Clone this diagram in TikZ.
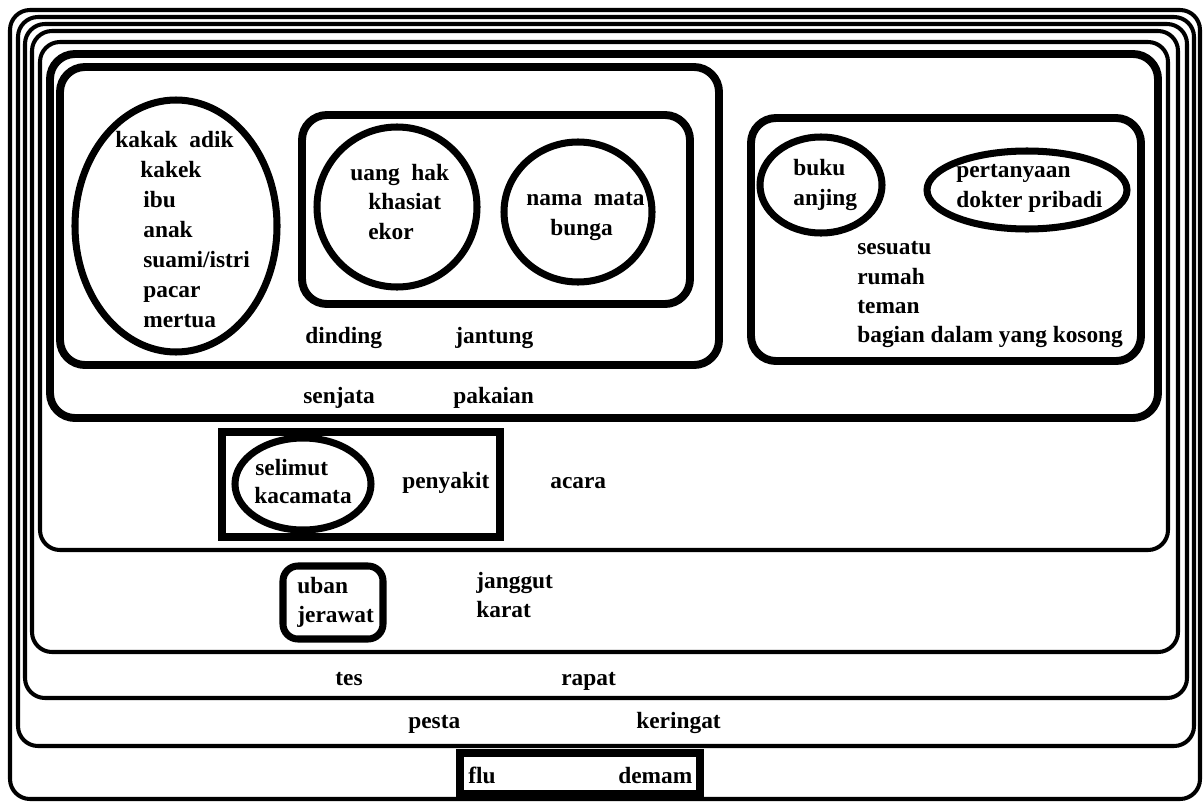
\documentclass[tikz,border=0pt]{standalone}
\usepackage{fontspec}
\setmainfont{Liberation Serif}

\tikzset{
  word/.style={font=\fontsize{13.3}{16}\selectfont\bfseries, inner sep=0pt, anchor=base west},
  layer/.style={line width=2.3pt, rounded corners=0.4cm},
  thickbox/.style={line width=4.5pt, rounded corners=0.5cm},
  ring/.style={line width=4pt},
  squarebox/.style={line width=5pt}
}

\begin{document}
\begin{tikzpicture}[x=0.02cm, y=-0.02cm]
  \useasboundingbox (0,0) rectangle (1203,801);
  % Nested layers
  \draw[layer] (10,10) rectangle (1200,799);
  \draw[layer] (18,17) rectangle (1194,746);
  \draw[layer] (25,24) rectangle (1187,698);
  \draw[layer] (32,31) rectangle (1178,652);
  \draw[layer] (40,42) rectangle (1168,550);
  \draw[thickbox] (50,54) rectangle (1158,418);
  \draw[thickbox] (60,67) rectangle (719,365);
  \draw[thickbox] (302,115) rectangle (690,304);
  \draw[thickbox] (751,118) rectangle (1141,361);
  % Ellipses
  \draw[ring] (176,226) ellipse [x radius=101, y radius=126];
  \draw[ring] (397,207) ellipse [x radius=80, y radius=80];
  \draw[ring] (578,212) ellipse [x radius=74, y radius=70];
  \draw[ring] (821,185) ellipse [x radius=61, y radius=48];
  \draw[ring] (1027,190) ellipse [x radius=100, y radius=39];
  \draw[ring] (303,484) ellipse [x radius=68, y radius=46];
  % Small boxes
  \draw[squarebox] (222,432) rectangle (500,537);
  \draw[line width=4pt, rounded corners=0.3cm] (283,566) rectangle (383,639);
  \draw[squarebox] (460,753) rectangle (700,794);

  % Family ellipse
  \node[word] (kakakadik) at (115,147) {kakak\ \ adik};
  \node[word] (kakek) at (140,177) {kakek};
  \node[word] (ibu) at (143,207) {ibu};
  \node[word] (anak) at (143,237) {anak};
  \node[word] (suami) at (143,267) {suami/istri};
  \node[word] (pacar) at (143,297) {pacar};
  \node[word] (mertua) at (143,327) {mertua};
  % Inner box
  \node[word] (uanghak) at (350,180) {uang\ \ hak};
  \node[word] (khasiat) at (368,209) {khasiat};
  \node[word] (ekor) at (368,239) {ekor};
  \node[word] (namamata) at (526,205) {nama\ \ mata};
  \node[word] (bunga) at (550,235) {bunga};
  \node[word] (dinding) at (305,343) {dinding};
  \node[word] (jantung) at (455,343) {jantung};
  \node[word] (senjata) at (303,403) {senjata};
  \node[word] (pakaian) at (453,403) {pakaian};
  % Right box
  \node[word] (buku) at (793,175) {buku};
  \node[word] (anjing) at (793,205) {anjing};
  \node[word] (pertanyaan) at (956,177) {pertanyaan};
  \node[word] (dokter) at (956,207) {dokter pribadi};
  \node[word] (sesuatu) at (857,254) {sesuatu};
  \node[word] (rumah) at (857,284) {rumah};
  \node[word] (teman) at (857,313) {teman};
  \node[word] (bagian) at (857,342) {bagian dalam yang kosong};
  % Lower layers
  \node[word] (selimut) at (255,475) {selimut};
  \node[word] (kacamata) at (254,503) {kacamata};
  \node[word] (penyakit) at (402,488) {penyakit};
  \node[word] (acara) at (550,488) {acara};
  \node[word] (uban) at (297,593) {uban};
  \node[word] (jerawat) at (297,622) {jerawat};
  \node[word] (janggut) at (476,588) {janggut};
  \node[word] (karat) at (476,617) {karat};
  \node[word] (tes) at (335,685) {tes};
  \node[word] (rapat) at (561,685) {rapat};
  \node[word] (pesta) at (408,728) {pesta};
  \node[word] (keringat) at (636,728) {keringat};
  \node[word] (flu) at (468,783) {flu};
  \node[word] (demam) at (618,783) {demam};
\end{tikzpicture}
\end{document}
